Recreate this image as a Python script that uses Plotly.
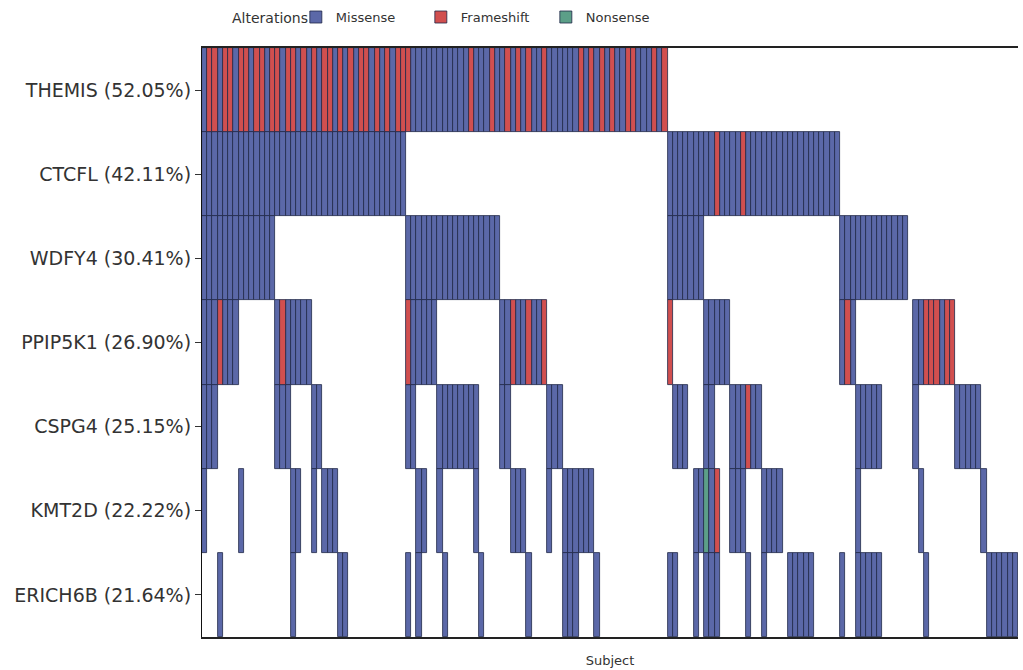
import plotly.graph_objects as go

# ---------------- data ----------------
genes = ["THEMIS", "CTCFL", "WDFY4", "PPIP5K1", "CSPG4", "KMT2D", "ERICH6B"]
pct_labels = ["52.05%", "42.11%", "30.41%", "26.90%", "25.15%", "22.22%", "21.64%"]

# one character per subject (column): M = Missense, F = Frameshift, N = Nonsense, . = none
THEMIS = ("MFFMFFMFFM" "FFMFFMFFMF" "MFMFFMFMFM" "FFMFMFMFFF" "MMMMMMMMMM"
          "MFMMMFMMFM" "FMFMMFMMMM" "MMFMFMFMFM" "MFFMMMFMF." ".........."
          ".........." ".........." ".........." ".........." ".........."
          "......")
CTCFL = ("MMMMMMMMMM" "MMMMMMMMMM" "MMMMMMMMMM" "MMMMMMMMM." ".........."
         ".........." ".........." ".........." ".........M" "MMMMMMMMFM"
         "MMMFMMMMMM" "MMMMMMMMMM" "MM........" ".........." ".........."
         "......")
WDFY4 = ("MMMMMMMMMM" "MMMM......" ".........." ".........M" "MMMMMMMMMM"
         "MMMMMMM..." ".........." ".........." ".........M" "MMMMMM...."
         ".........." ".........." "..MMMMMMMM" "MMMMM....." ".........."
         "......")
PPIP5K1 = ("MMMFMMM..." "....MFMMMM" "M........." ".........F" "MMMMM....."
           ".......MMF" "MMFMMF...." ".........." ".........F" "......MMMM"
           "M........." ".........." "..MFM....." "......MMFF" "FMFF......"
           "......")
CSPG4 = ("MMM......." "....MMM..." ".MM......." ".........M" "M....MMMMM"
         "MMM....MM." "......MMM." ".........." ".........." "MMM...MM.."
         ".MMMFMM..." ".........." ".....MMMMM" "......M..." "....MMMMM."
         "......")
KMT2D = ("M......M.." ".......MM." ".M.MMM...." ".........." ".MM..M...."
         "..M......M" "MM....M..M" "MMMMM....." ".........." "....MMNMF."
         ".MMM...MMM" "M........." ".....M...." ".......M.." ".........M"
         "......")
ERICH6B = ("...M......" ".......M.." "......MM.." ".........M" ".M....M..."
           "...M......" "..M......M" "MM...M...." ".........M" "M...M.MMM."
           "....M..M.." "..MMMMM..." "..M..MMMMM" "........M." ".........."
           "MMMMMM")

rows = [THEMIS, CTCFL, WDFY4, PPIP5K1, CSPG4, KMT2D, ERICH6B]
alterations = [("M", "Missense", "#5b68a8"),
               ("F", "Frameshift", "#d14f4f"),
               ("N", "Nonsense", "#5c9f88")]

n_cols = len(THEMIS)
n_rows = len(genes)

# ---------------- figure ----------------
fig = go.Figure()
for code, name, color in alterations:
    xs, bases = [], []
    for gi, s in enumerate(rows):
        for ci, ch in enumerate(s):
            if ch == code:
                xs.append(ci)
                bases.append(n_rows - 1 - gi)
    fig.add_trace(go.Bar(
        x=xs, y=[1] * len(xs), base=bases, width=1, name=name,
        marker=dict(color=color, line=dict(color="#1f2748", width=0.8)),
        hovertemplate=name + "<extra></extra>",
    ))

tickvals = [n_rows - 1 - i + 0.5 for i in range(n_rows)]
ticktext = [f"{g} ({p})" for g, p in zip(genes, pct_labels)]

fig.update_layout(
    width=1023, height=670,
    margin=dict(l=202, r=5, t=48, b=33, autoexpand=False),
    paper_bgcolor="white", plot_bgcolor="white",
    barmode="overlay", bargap=0,
    font=dict(family="DejaVu Sans", color="#333333"),
    showlegend=True,
    legend=dict(
        orientation="h", x=0.115, xanchor="left", y=1.078, yanchor="top",
        font=dict(size=13, color="#333333"),
        itemwidth=30, entrywidth=80, entrywidthmode="pixels",
        bgcolor="rgba(0,0,0,0)",
    ),
    annotations=[dict(
        text="Alterations", xref="paper", yref="paper", x=0.0343, y=1.051,
        xanchor="left", yanchor="middle", showarrow=False,
        font=dict(size=14, color="#333333"),
    )],
    xaxis=dict(
        range=[-0.5, n_cols - 0.5], showticklabels=False, ticks="",
        showgrid=False, zeroline=False, showline=True, linecolor="#222222",
        linewidth=1.5, mirror=True,
        title=dict(text="Subject", font=dict(size=13, color="#333333"), standoff=18),
    ),
    yaxis=dict(
        range=[0, n_rows], tickvals=tickvals, ticktext=ticktext,
        showgrid=False, zeroline=False, showline=True, linecolor="#111111",
        linewidth=1.2, ticks="outside", ticklen=6, tickcolor="#333333",
        tickfont=dict(size=19, color="#333333"),
    ),
)

fig.write_html("out.html", config={"displayModeBar": False},
               post_script="document.body.style.margin='0px';")
